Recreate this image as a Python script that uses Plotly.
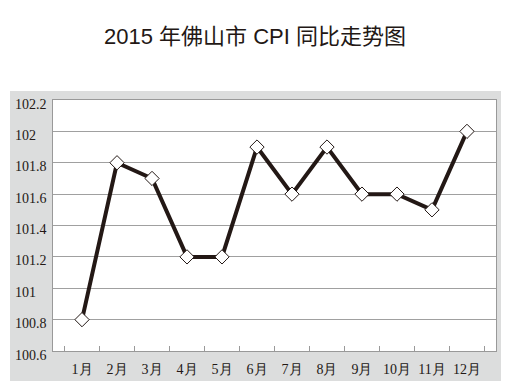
import plotly.graph_objects as go

months = ["1月", "2月", "3月", "4月", "5月", "6月", "7月", "8月", "9月", "10月", "11月", "12月"]
cpi = [100.8, 101.8, 101.7, 101.2, 101.2, 101.9, 101.6, 101.9, 101.6, 101.6, 101.5, 102.0]
y_ticks = [100.6, 100.8, 101.0, 101.2, 101.4, 101.6, 101.8, 102.0, 102.2]
y_tick_text = ["100.6", "100.8", "101", "101.2", "101.4", "101.6", "101.8", "102", "102.2"]
title_text = "2015 年佛山市 CPI 同比走势图"

W, H = 508, 388
L, R, T, B = 53, 12, 100, 37
pw, ph = W - L - R, H - T - B

ink = "#231815"
serif = "Liberation Serif, Times New Roman, serif"

fig = go.Figure()
fig.add_trace(go.Scatter(
    x=months, y=cpi, mode="lines+markers",
    line=dict(color=ink, width=4),
    marker=dict(symbol="diamond", size=11, color="white",
                line=dict(color=ink, width=1)),
    cliponaxis=False, hoverinfo="skip",
))

def px_x(p):
    return (p - L) / pw

def px_y(p):
    return (H - B - p) / ph

shapes = [
    dict(type="rect", xref="paper", yref="paper", layer="below",
         x0=px_x(10), x1=px_x(501), y0=px_y(381), y1=px_y(91),
         fillcolor="#dcdddd", line=dict(width=0)),
    dict(type="rect", xref="paper", yref="paper", layer="below",
         x0=0, x1=1, y0=0, y1=1, fillcolor="white", line=dict(width=0)),
]

annotations = [
    dict(xref="paper", yref="y", x=px_x(13), y=v, text=t, showarrow=False,
         xanchor="left", yanchor="middle", yshift=-4,
         font=dict(family=serif, size=14, color=ink))
    for v, t in zip(y_ticks, y_tick_text)
]

fig.update_layout(
    width=W, height=H,
    margin=dict(l=L, r=R, t=T, b=B, autoexpand=False),
    paper_bgcolor="white", plot_bgcolor="white",
    showlegend=False,
    title=dict(text=title_text, x=255 / W, xanchor="center",
               y=1 - 36 / H, yanchor="middle", yref="container",
               font=dict(family="Liberation Sans, Noto Sans CJK SC", size=22, color=ink)),
    shapes=shapes, annotations=annotations,
    xaxis=dict(type="category", tickson="boundaries", ticks="inside",
               ticklen=5, tickcolor="#999999", showgrid=False, tickangle=0,
               automargin=False,
               showline=True, linecolor="#999999", linewidth=1, mirror=True,
               tickfont=dict(family=serif, size=14, color=ink),
               ticklabelstandoff=5, zeroline=False, fixedrange=True),
    yaxis=dict(range=[100.6, 102.2], tickvals=y_ticks, showticklabels=False,
               automargin=False,
               showgrid=True, gridcolor="#a0a0a0", gridwidth=1,
               showline=True, linecolor="#999999", linewidth=1, mirror=True,
               ticks="", zeroline=False, fixedrange=True),
)

fig.write_html("out.html")
